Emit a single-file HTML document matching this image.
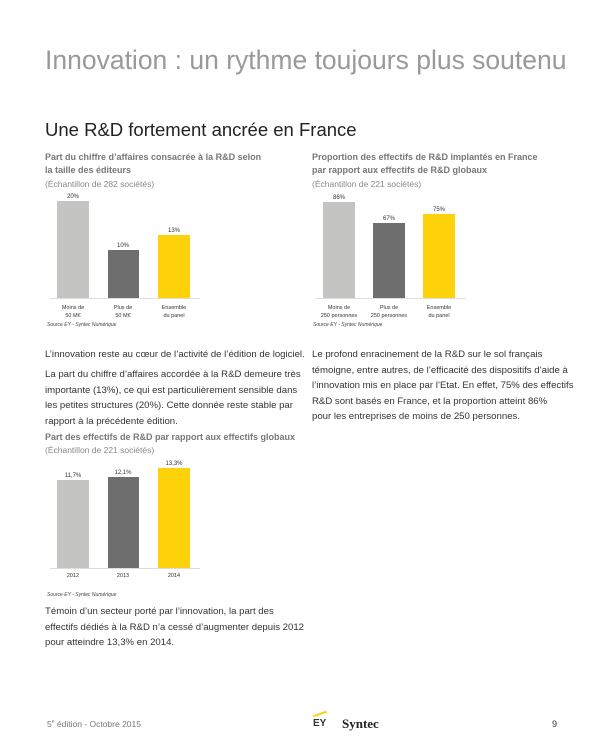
<!DOCTYPE html>
<html><head><meta charset="utf-8"><style>
body{margin:0;width:600px;height:750px;background:#fff;font-family:"Liberation Sans",sans-serif;position:relative;overflow:hidden}
.a{position:absolute;white-space:nowrap}
.ct{font-size:9px;font-weight:bold;color:#777;line-height:13px}
.sm{font-size:8.5px;color:#888}
.p{font-size:9.6px;color:#333;line-height:15.5px}
.bar{position:absolute}
.v{position:absolute;font-size:6px;color:#333;text-align:center;width:40px}
.lb{position:absolute;font-size:5.5px;color:#333;text-align:center;width:60px;line-height:8px}
.src{position:absolute;font-size:5px;font-style:italic;color:#444}
.base{position:absolute;height:1px;background:#ddd}
</style></head><body>
<div class="a" style="left:45px;top:45px;font-size:26.5px;color:#999;font-weight:300">Innovation : un rythme toujours plus soutenu</div>
<div class="a" style="left:45px;top:119px;font-size:18.5px;color:#222">Une R&amp;D fortement ancrée en France</div>

<div class="a ct" style="left:45px;top:151px">Part du chiffre d’affaires consacrée à la R&amp;D selon<br>la taille des éditeurs</div>
<div class="a sm" style="left:45px;top:179px">(Échantillon de 282 sociétés)</div>
<div class="bar" style="left:57px;top:201px;width:32px;height:97px;background:#c4c4c2"></div>
<div class="bar" style="left:108px;top:250px;width:31px;height:48px;background:#6e6e6e"></div>
<div class="bar" style="left:158px;top:235px;width:32px;height:63px;background:#fdd20a"></div>
<div class="base" style="left:50px;top:298px;width:150px"></div>
<div class="v" style="left:53px;top:194px">20%</div><div class="v" style="left:103px;top:243px">10%</div><div class="v" style="left:154px;top:228px">13%</div>
<div class="lb" style="left:43px;top:304px">Moins de<br>50 M€</div><div class="lb" style="left:93px;top:304px">Plus de<br>50 M€</div><div class="lb" style="left:144px;top:304px">Ensemble<br>du panel</div>
<div class="src" style="left:47px;top:322px">Source EY - Syntec Numérique</div>

<div class="a ct" style="left:312px;top:151px">Proportion des effectifs de R&amp;D implantés en France<br>par rapport aux effectifs de R&amp;D globaux</div>
<div class="a sm" style="left:312px;top:179px">(Échantillon de 221 sociétés)</div>
<div class="bar" style="left:323px;top:202px;width:32px;height:96px;background:#c4c4c2"></div>
<div class="bar" style="left:373px;top:223px;width:32px;height:75px;background:#6e6e6e"></div>
<div class="bar" style="left:423px;top:214px;width:32px;height:84px;background:#fdd20a"></div>
<div class="base" style="left:316px;top:298px;width:150px"></div>
<div class="v" style="left:319px;top:195px">86%</div><div class="v" style="left:369px;top:216px">67%</div><div class="v" style="left:419px;top:207px">75%</div>
<div class="lb" style="left:309px;top:304px">Moins de<br>250 personnes</div><div class="lb" style="left:359px;top:304px">Plus de<br>250 personnes</div><div class="lb" style="left:409px;top:304px">Ensemble<br>du panel</div>
<div class="src" style="left:313px;top:322px">Source EY - Syntec Numérique</div>

<div class="a p" style="left:45px;top:347px">L’innovation reste au cœur de l’activité de l’édition de logiciel.</div>
<div class="a p" style="left:45px;top:367px">La part du chiffre d’affaires accordée à la R&amp;D demeure très<br>importante (13%), ce qui est particulièrement sensible dans<br>les petites structures (20%). Cette donnée reste stable par<br>rapport à la précédente édition.</div>
<div class="a p" style="left:312px;top:347px">Le profond enracinement de la R&amp;D sur le sol français<br>témoigne, entre autres, de l’efficacité des dispositifs d’aide à<br>l’innovation mis en place par l’Etat. En effet, 75% des effectifs<br>R&amp;D sont basés en France, et la proportion atteint 86%<br>pour les entreprises de moins de 250 personnes.</div>

<div class="a ct" style="left:45px;top:431px">Part des effectifs de R&amp;D par rapport aux effectifs globaux</div>
<div class="a sm" style="left:45px;top:445px">(Échantillon de 221 sociétés)</div>
<div class="bar" style="left:57px;top:480px;width:32px;height:88px;background:#c4c4c2"></div>
<div class="bar" style="left:108px;top:477px;width:31px;height:91px;background:#6e6e6e"></div>
<div class="bar" style="left:158px;top:468px;width:32px;height:100px;background:#fdd20a"></div>
<div class="base" style="left:50px;top:568px;width:150px"></div>
<div class="v" style="left:53px;top:473px">11,7%</div><div class="v" style="left:103px;top:470px">12,1%</div><div class="v" style="left:154px;top:461px">13,3%</div>
<div class="lb" style="left:43px;top:572px">2012</div><div class="lb" style="left:93px;top:572px">2013</div><div class="lb" style="left:144px;top:572px">2014</div>
<div class="src" style="left:47px;top:592px">Source EY - Syntec Numérique</div>
<div class="a p" style="left:45px;top:604px">Témoin d’un secteur porté par l’innovation, la part des<br>effectifs dédiés à la R&amp;D n’a cessé d’augmenter depuis 2012<br>pour atteindre 13,3% en 2014.</div>

<div class="a" style="left:47px;top:719px;font-size:8.5px;color:#777">5<sup style="font-size:5px">e</sup> édition - Octobre 2015</div>
<div class="a" style="left:313px;top:713px;width:14px;height:2px;background:#fdd20a;transform:rotate(-20deg)"></div>
<div class="a" style="left:313px;top:718px;font-size:10px;font-weight:bold;color:#333">EY</div>
<div class="a" style="left:342px;top:716px;font-size:13px;font-weight:bold;color:#222;font-family:'Liberation Serif',serif">Syntec</div>
<div class="a" style="left:552px;top:719px;font-size:9px;color:#333">9</div>
</body></html>
